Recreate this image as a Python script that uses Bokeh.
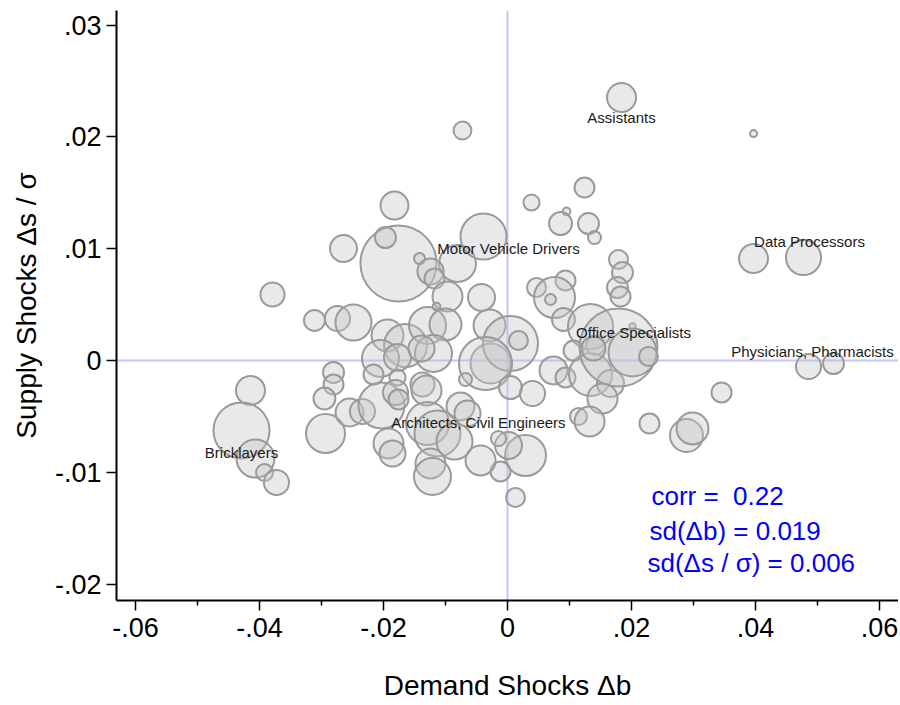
from bokeh.plotting import figure
from bokeh.models import Range1d, FixedTicker, Span, ColumnDataSource
from bokeh.embed import file_html
from bokeh.resources import INLINE
from bokeh.core.properties import value
import numpy as np

# ---- data ----
demand = [
    0.01839, 0.03968, -0.00726, 0.01242, 0.00387, 0.00952, 0.00855, 0.01306, 0.01403, 0.03968,
    0.04774, 0.01790, 0.01855, 0.01774, 0.01823, 0.00468, 0.00935, 0.00758, 0.00694, 0.00903,
    0.01339, 0.02016, -0.01823, -0.02645, -0.01758, -0.01968, -0.01419, -0.00806, -0.01242, -0.01177,
    -0.00387, -0.00968, -0.00419, -0.03790, -0.03113, -0.02742, -0.02484, -0.01935, -0.01645, -0.01290,
    -0.01000, -0.01145, -0.01194, -0.02048, -0.01774, -0.00290, -0.00274, -0.01387, 0.00048, -0.00355,
    0.00177, -0.00677, 0.00048, 0.00403, 0.00742, 0.00935, 0.01339, 0.01661, 0.01065, 0.01419,
    0.01790, 0.02016, 0.02274, 0.01387, 0.01532, 0.01145, 0.01323, 0.02290, 0.03452, 0.02887,
    0.02984, 0.04855, 0.05258, 0.00129, 0.00290, 0.00016, -0.00145, -0.00113, -0.00435, -0.02806,
    -0.02806, -0.02952, -0.02935, -0.02548, -0.02339, -0.02032, -0.02161, -0.01774, -0.01806, -0.01758,
    -0.01371, -0.01306, -0.00758, -0.00645, -0.01290, -0.01129, -0.00855, -0.01919, -0.01855, -0.01242,
    -0.01210, -0.04145, -0.04290, -0.04065, -0.03919, -0.03726,
]
supply = [
    0.02352, 0.02030, 0.02057, 0.01547, 0.01413, 0.01333, 0.01225, 0.01225, 0.01100, 0.00912,
    0.00921, 0.00903, 0.00787, 0.00653, 0.00572, 0.00653, 0.00716, 0.00564, 0.00546, 0.00367,
    0.00304, 0.00304, 0.01386, 0.01002, 0.00868, 0.01100, 0.00912, 0.00868, 0.00796, 0.00733,
    0.01109, 0.00572, 0.00564, 0.00590, 0.00358, 0.00376, 0.00340, 0.00224, 0.00134, 0.00313,
    0.00322, 0.00483, 0.00063, 0.00018, 0.00027, 0.00313, -0.00027, 0.00107, 0.00152, -0.00027,
    0.00179, -0.00170, -0.00242, -0.00295, -0.00089, -0.00152, -0.00125, -0.00206, 0.00089, 0.00134,
    0.00116, 0.00072, 0.00036, 0.00107, -0.00340, -0.00501, -0.00546, -0.00564, -0.00286, -0.00671,
    -0.00608, -0.00054, -0.00027, -0.01225, -0.00850, -0.00760, -0.00698, -0.00993, -0.00894, -0.00107,
    -0.00215, -0.00340, -0.00653, -0.00465, -0.00456, -0.00403, -0.00125, -0.00152, -0.00286, -0.00349,
    -0.00215, -0.00268, -0.00411, -0.00474, -0.00564, -0.00653, -0.00725, -0.00742, -0.00832, -0.00921,
    -0.01038, -0.00268, -0.00626, -0.00877, -0.01002, -0.01091,
]
weight = [
    8.4, 0.5, 3.2, 4.0, 2.6, 0.6, 5.3, 4.4, 1.7, 8.4,
    12.3, 3.6, 4.4, 4.4, 4.0, 3.6, 4.0, 16.8, 1.2, 5.3,
    20.3, 0.4, 7.8, 7.3, 57.8, 4.4, 1.2, 13.7, 6.8, 4.0,
    21.2, 9.0, 7.3, 5.8, 4.4, 6.3, 13.0, 10.2, 18.5, 13.7,
    10.2, 0.6, 13.7, 13.7, 7.3, 10.2, 16.0, 6.8, 30.3, 28.1,
    3.6, 1.7, 5.3, 6.3, 7.8, 4.0, 18.5, 7.3, 4.0, 3.6,
    60.8, 23.0, 3.6, 5.8, 9.0, 2.9, 9.0, 4.0, 4.0, 10.9,
    10.2, 6.3, 4.4, 3.6, 16.8, 7.3, 2.3, 4.0, 9.0, 4.4,
    4.0, 4.8, 15.2, 7.8, 6.3, 21.2, 4.0, 2.6, 6.3, 4.0,
    5.8, 9.0, 7.8, 6.8, 18.5, 21.2, 13.0, 9.0, 6.8, 9.0,
    13.7, 8.4, 31.4, 14.4, 2.9, 6.3,
]

label_text = ["Assistants", "Data Processors", "Motor Vehicle Drivers", "Office Specialists",
              "Physicians, Pharmacists", "Architects, Civil Engineers", "Bricklayers"]
label_x = [0.01839, 0.04871, 0.00016, 0.02032, 0.04919, -0.00468, -0.04290]
label_y = [0.02174, 0.01064, 0.01002, 0.00250, 0.00080, -0.00555, -0.00823]

stats_text = ["corr =\u00a0 0.22", "sd(\u0394b) = 0.019", "sd(\u0394s / \u03c3) = 0.006"]
stats_x = [0.02322, 0.02290, 0.02258]
stats_y = [-0.01216, -0.01521, -0.01816]

x_ticks = [-0.06, -0.04, -0.02, 0, 0.02, 0.04, 0.06]
x_tick_labels = ["-.06", "-.04", "-.02", "0", ".02", ".04", ".06"]
x_minor = [-0.05, -0.03, -0.01, 0.01, 0.03, 0.05]
y_ticks = [-0.02, -0.01, 0, 0.01, 0.02, 0.03]
y_tick_labels = ["-.02", "-.01", "0", ".01", ".02", ".03"]

FONT = "Liberation Sans"

p = figure(output_backend="svg", toolbar_location=None,
           frame_width=782, frame_height=590,
           min_border_left=116, min_border_right=0, min_border_top=10, min_border_bottom=95,
           x_range=Range1d(-0.06306, 0.06306), y_range=Range1d(-0.02147, 0.03131))
p.outline_line_color = None
p.xgrid.grid_line_color = None
p.ygrid.grid_line_color = None
p.background_fill_color = "white"
p.border_fill_color = "white"

# reference lines
ref_col = "#c4c4ff"
p.add_layout(Span(location=0, dimension="height", line_color=ref_col, line_width=2, level="underlay"))
p.add_layout(Span(location=0, dimension="width", line_color=ref_col, line_width=2, level="underlay"))

size = [10.0 * np.sqrt(w) for w in weight]
src = ColumnDataSource(dict(x=demand, y=supply, s=size))
p.scatter("x", "y", size="s", source=src, marker="circle",
          fill_color="#c4c4c4", fill_alpha=0.38,
          line_color="#9a9a9a", line_width=2)

lsrc = ColumnDataSource(dict(x=label_x, y=label_y, t=label_text))
p.text("x", "y", text="t", source=lsrc, text_font=value(FONT), text_font_size="15px",
       text_color="#1a1a1a", text_align="center", text_baseline="middle")

ssrc = ColumnDataSource(dict(x=stats_x, y=stats_y, t=stats_text))
p.text("x", "y", text="t", source=ssrc, text_font=value(FONT), text_font_size="26px",
       text_color="#0000ff", text_align="left", text_baseline="middle")

# axes
p.xaxis.ticker = FixedTicker(ticks=x_ticks, minor_ticks=x_minor)
p.xaxis.major_label_overrides = {t: l for t, l in zip(x_ticks, x_tick_labels)}
p.yaxis.ticker = FixedTicker(ticks=y_ticks)
p.yaxis.major_label_overrides = {t: l for t, l in zip(y_ticks, y_tick_labels)}

p.xaxis.axis_label = "Demand Shocks \u0394b"
p.yaxis.axis_label = "Supply Shocks \u0394s / \u03c3"
for ax in (p.xaxis, p.yaxis):
    ax.axis_line_color = "black"
    ax.axis_line_width = 2
    ax.major_tick_line_color = "black"
    ax.major_tick_line_width = 1.5
    ax.major_tick_out = 10
    ax.major_tick_in = 0
    ax.major_label_text_font = FONT
    ax.major_label_text_font_size = "27px"
    ax.major_label_text_color = "black"
    ax.axis_label_text_font = FONT
    ax.axis_label_text_font_size = "28px"
    ax.axis_label_text_font_style = "normal"
    ax.axis_label_text_color = "black"
p.xaxis.minor_tick_line_color = "black"
p.xaxis.minor_tick_line_width = 1.5
p.xaxis.minor_tick_out = 5
p.xaxis.minor_tick_in = 0
p.yaxis.minor_tick_line_color = None
p.xaxis.major_label_standoff = 7
p.yaxis.major_label_standoff = 5
p.yaxis.major_label_orientation = "horizontal"
p.xaxis.axis_label_standoff = 30
p.yaxis.axis_label_standoff = 10

open("out.html", "w").write(file_html(p, INLINE))
